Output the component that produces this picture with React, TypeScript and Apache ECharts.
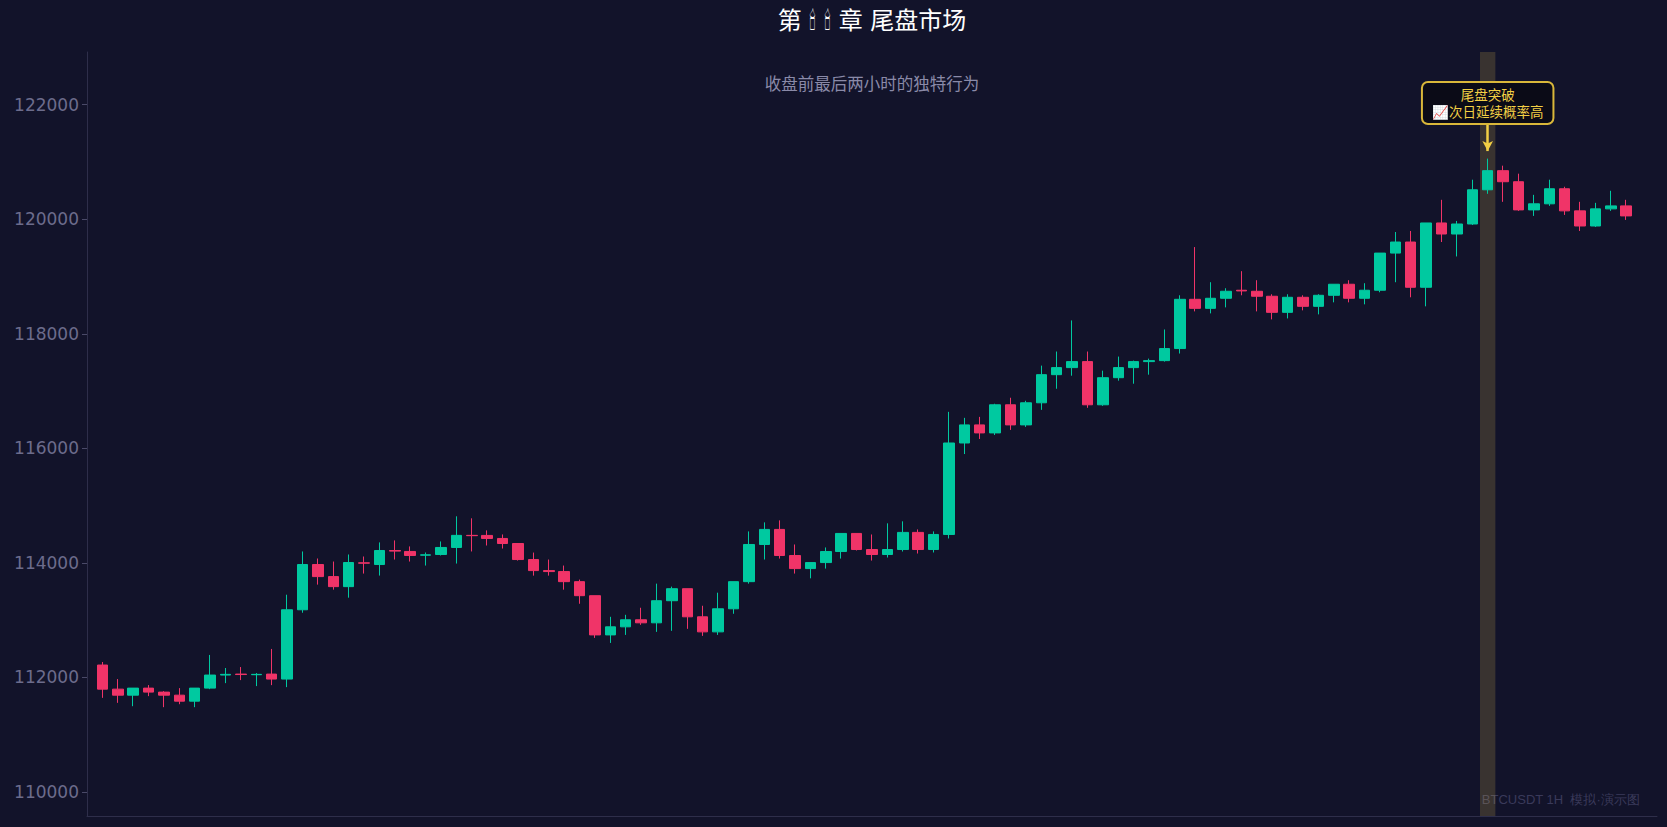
import { useEffect, useRef } from "react";
import * as echarts from "echarts";

const TITLE = "第 🕯 🕯 章 尾盘市场";
const SUBTITLE = "收盘前最后两小时的独特行为";
const NOTE = "尾盘突破\n📈次日延续概率高";
const WATERMARK = "BTCUSDT 1H  模拟·演示图";

const Y_TICKS = [110000, 112000, 114000, 116000, 118000, 120000, 122000];

// 1H candles
const OPEN = [
  112216, 111795, 111690, 111813, 111743, 111690, 111585, 111813, 112041, 112058,
  112047, 112058, 111971, 113181, 113971, 113760, 113585, 114000, 113971, 114216,
  114199, 114134, 114146, 114269, 114480, 114479, 114426, 114338, 114058, 113865,
  113848, 113672, 113427, 112742, 112883, 113006, 112953, 113339, 113549, 113058,
  112795, 113198, 113672, 114321, 114584, 114128, 113900, 114005, 114198, 114514,
  114233, 114146, 114233, 114532, 114233, 114496, 116093, 116409, 116269, 116760,
  116409, 116795, 117286, 117409, 117514, 116760, 117233, 117409, 117514, 117531,
  117742, 118602, 118444, 118620, 118760, 118742, 118655, 118374, 118637, 118479,
  118672, 118865, 118620, 118760, 119409, 119602, 118812, 119935, 119742, 119917,
  120514, 120848, 120655, 120163, 120269, 120532, 120146, 119882, 120181, 120233,
];
const CLOSE = [
  111795, 111690, 111813, 111743, 111690, 111585, 111813, 112041, 112053, 112050,
  112053, 111971, 113181, 113971, 113760, 113585, 114006, 113995, 114216, 114205,
  114129, 114140, 114269, 114480, 114475, 114426, 114338, 114058, 113865, 113848,
  113672, 113427, 112742, 112883, 113006, 112953, 113339, 113549, 113058, 112795,
  113198, 113672, 114321, 114584, 114128, 113900, 114005, 114198, 114514, 114233,
  114146, 114233, 114532, 114233, 114496, 116093, 116409, 116269, 116760, 116409,
  116795, 117286, 117409, 117514, 116760, 117233, 117409, 117514, 117531, 117742,
  118602, 118444, 118620, 118742, 118748, 118655, 118374, 118637, 118479, 118672,
  118865, 118620, 118760, 119409, 119602, 118812, 119935, 119742, 119917, 120514,
  120848, 120655, 120163, 120269, 120532, 120146, 119882, 120181, 120233, 120058,
];
const LOW = [
  111643, 111556, 111497, 111673, 111480, 111532, 111480, 111795, 111900, 111953,
  111848, 111865, 111830, 113129, 113620, 113532, 113392, 113813, 113778, 114058,
  114023, 113953, 114129, 113988, 114199, 114303, 114250, 114040, 113777, 113777,
  113532, 113286, 112690, 112602, 112742, 112918, 112795, 112813, 112848, 112725,
  112742, 113111, 113637, 114058, 114075, 113813, 113730, 113900, 114075, 114216,
  114040, 114093, 114198, 114163, 114181, 114426, 115900, 116163, 116233, 116321,
  116374, 116672, 117040, 117268, 116707, 116742, 117181, 117128, 117286, 117514,
  117655, 118391, 118356, 118461, 118672, 118391, 118251, 118268, 118409, 118339,
  118549, 118549, 118514, 118725, 118900, 118637, 118479, 119602, 119350, 119900,
  120444, 120304, 120146, 120058, 120233, 120075, 119795, 119865, 120146, 119988,
];
const HIGH = [
  112269, 111971, 111813, 111866, 111760, 111813, 111813, 112392, 112164, 112181,
  112076, 112497, 113444, 114199, 114076, 114023, 114146, 114111, 114357, 114392,
  114287, 114181, 114374, 114813, 114778, 114567, 114496, 114338, 114180, 114058,
  113953, 113708, 113427, 113058, 113093, 113216, 113637, 113585, 113549, 113251,
  113479, 113672, 114549, 114707, 114742, 114321, 114005, 114269, 114514, 114514,
  114496, 114690, 114725, 114584, 114549, 116637, 116532, 116549, 116778, 116883,
  116830, 117444, 117690, 118233, 117690, 117356, 117602, 117532, 117566, 118075,
  118672, 119514, 118900, 118795, 119093, 118935, 118690, 118690, 118672, 118690,
  118865, 118935, 118883, 119409, 119777, 119795, 119935, 120339, 119970, 120690,
  121058, 120935, 120795, 120426, 120690, 120567, 120304, 120286, 120497, 120339,
];

// the breakout candle that the note points at
const HIGHLIGHT_INDEX = 90;
const NOTE_VALUE = 122030;
const ARROW_FROM = 121650;
const ARROW_TO = 121190;

const Y_MIN = 109580;
const Y_MAX = 122920;

const UP = "#00c9a0";
const DOWN = "#f03468";
const GOLD = "#f2cf45";

export default function App() {
  const chartRef = useRef<HTMLDivElement>(null);

  useEffect(() => {
    if (!chartRef.current) return;
    const chart = echarts.init(chartRef.current, undefined, { renderer: "svg" });

    const candles = OPEN.map((o, i) => [i, o, CLOSE[i], LOW[i], HIGH[i]]);

    chart.setOption({
      animation: false,
      backgroundColor: "#12132a",
      textStyle: { fontFamily: "'DejaVu Sans', 'Noto Sans CJK SC', sans-serif" },
      title: [
        {
          text: TITLE,
          left: 867,
          top: 4,
          textAlign: "center",
          textStyle: {
            fontSize: 24,
            fontWeight: "normal",
            color: "#ffffff",
            fontFamily: "'DejaVu Sans', 'Noto Sans CJK SC', sans-serif",
          },
        },
        {
          text: SUBTITLE,
          left: 867,
          top: 70,
          textAlign: "center",
          textStyle: {
            fontSize: 16.5,
            fontWeight: "normal",
            color: "#8a8aa8",
            fontFamily: "'Noto Sans CJK SC', sans-serif",
          },
        },
      ],
      graphic: [
        {
          type: "text",
          right: 27,
          top: 793,
          silent: true,
          style: { text: WATERMARK, fill: "#3a3a5a", fontSize: 13 },
        },
      ],
      grid: { left: 87, right: 10, top: 52, bottom: 11, outerBoundsMode: "none" },
      xAxis: {
        type: "value",
        min: -1,
        max: 101,
        axisLine: { show: true, onZero: false, lineStyle: { color: "#2e2e4a" } },
        axisTick: { show: false },
        axisLabel: { show: false },
        splitLine: { show: false },
      },
      yAxis: {
        type: "value",
        min: Y_MIN,
        max: Y_MAX,
        axisLine: { show: true, onZero: false, lineStyle: { color: "#2e2e4a" } },
        axisTick: { show: true, length: 5, customValues: Y_TICKS, lineStyle: { color: "#4a4a68" } },
        axisLabel: {
          customValues: Y_TICKS,
          formatter: (v: number) => String(v),
          color: "#6c6c8c",
          fontSize: 17,
          margin: 8,
        },
        splitLine: { show: false },
      },
      series: [
        {
          type: "candlestick",
          data: candles,
          encode: { x: 0, y: [1, 2, 3, 4] },
          barWidth: 11,
          itemStyle: {
            color: UP,
            color0: DOWN,
            borderColor: UP,
            borderColor0: DOWN,
            borderWidth: 1,
          },
          markArea: {
            silent: true,
            itemStyle: { color: "rgba(240, 200, 80, 0.18)" },
            data: [[{ xAxis: HIGHLIGHT_INDEX - 0.5 }, { xAxis: HIGHLIGHT_INDEX + 0.5 }]],
          },
          markLine: {
            silent: true,
            symbol: ["none", "arrow"],
            symbolSize: [8, 10],
            label: { show: false },
            lineStyle: { color: GOLD, width: 2.5, type: "solid" },
            data: [
              [
                { coord: [HIGHLIGHT_INDEX, ARROW_FROM] },
                { coord: [HIGHLIGHT_INDEX, ARROW_TO] },
              ],
            ],
          },
          markPoint: {
            silent: true,
            symbol: "circle",
            symbolSize: 1,
            itemStyle: { color: "rgba(0,0,0,0)" },
            data: [
              {
                coord: [HIGHLIGHT_INDEX, NOTE_VALUE],
                label: {
                  show: true,
                  position: "inside",
                  formatter: NOTE,
                  color: GOLD,
                  fontSize: 13.5,
                  lineHeight: 17,
                  align: "center",
                  fontFamily: "'Noto Sans CJK SC', sans-serif",
                  backgroundColor: "#0b0b17",
                  borderColor: "#d9b73a",
                  borderWidth: 2,
                  borderRadius: 5,
                  padding: [3, 9],
                },
              },
            ],
          },
        },
      ],
    });

    return () => chart.dispose();
  }, []);

  return (
    <div
      ref={chartRef}
      style={{ position: "fixed", left: 0, top: 0, width: 1667, height: 827 }}
    />
  );
}
